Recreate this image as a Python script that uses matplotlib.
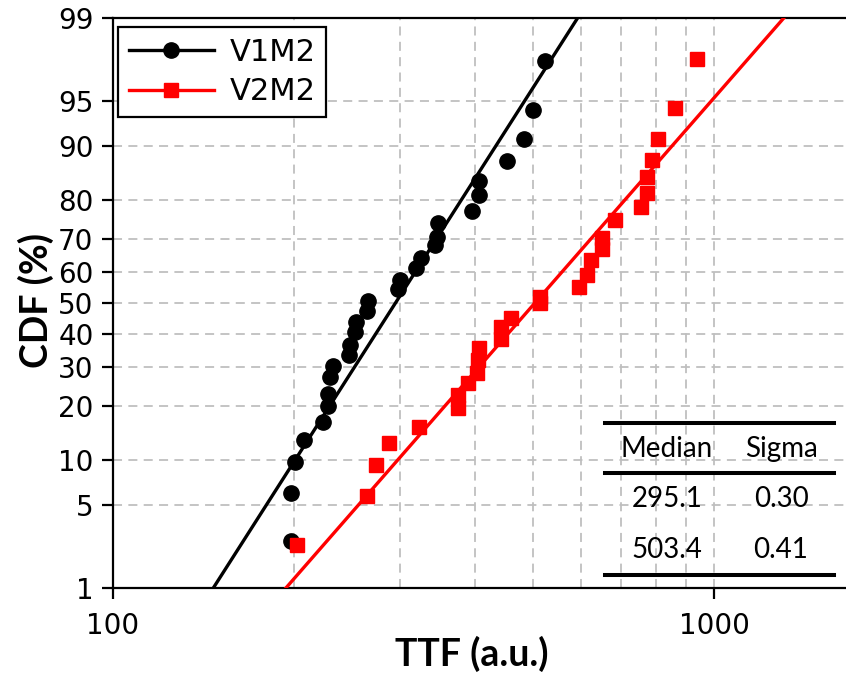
import math
import numpy as np
import matplotlib
matplotlib.use("Agg")
import matplotlib.pyplot as plt
from matplotlib.lines import Line2D
from matplotlib.ticker import FixedLocator, NullFormatter, FixedFormatter

# ---------------- data ----------------
v1_ttf = [198, 198, 201, 208, 224, 228, 228, 230, 232, 247, 248, 253, 254, 265, 266,
          298, 300, 319, 325, 343, 346, 348, 396, 406, 406, 452, 483, 499, 523]
v1_cdf = [2.6, 6.0, 9.7, 13.2, 16.6, 20.0, 23.0, 27.4, 30.3, 33.5, 36.6, 40.7, 43.9, 47.5, 50.7,
          54.5, 57.6, 61.1, 64.2, 68.2, 70.6, 74.4, 77.3, 81.1, 84.1, 87.7, 90.9, 94.2, 97.6]

v2_ttf = [202, 265, 274, 288, 323, 375, 375, 390, 403, 405, 407, 442, 442, 459, 513, 514,
          597, 615, 624, 650, 650, 684, 755, 774, 774, 788, 808, 861, 936]
v2_cdf = [2.4, 5.8, 9.3, 12.6, 15.6, 19.6, 22.6, 25.6, 28.5, 32.1, 35.6, 38.5, 42.3, 45.0, 50.1, 52.0,
          55.3, 59.0, 63.7, 67.0, 70.1, 75.1, 78.4, 81.5, 84.9, 87.8, 91.0, 94.4, 97.7]

series_names = ["V1M2", "V2M2"]
series_colors = ["black", "#ff0000"]
series_markers = ["o", "s"]
medians = [295.1, 503.4]
sigmas = [0.30, 0.41]

y_ticks = [1, 5, 10, 20, 30, 40, 50, 60, 70, 80, 90, 95, 99]
x_ticks = [100, 1000]
x_grid = [200, 300, 400, 500, 600, 700, 800, 900, 1000]

table_header = ["Median", "Sigma"]
table_rows = [["295.1", "0.30"], ["503.4", "0.41"]]

# ---------------- probability scale helpers ----------------
_a = [-3.969683028665376e+01, 2.209460984245205e+02, -2.759285104469687e+02,
      1.383577518672690e+02, -3.066479806614716e+01, 2.506628277459239e+00]
_b = [-5.447609879822406e+01, 1.615858368580409e+02, -1.556989798598866e+02,
      6.680131188771972e+01, -1.328068155288572e+01]
_c = [-7.784894002430293e-03, -3.223964580411365e-01, -2.400758277161838e+00,
      -2.549671010173818e+00, 4.374664141464968e+00, 2.938163982698783e+00]
_d = [7.784695709041462e-03, 3.224671290700398e-01, 2.445134137142996e+00,
      3.754408661907416e+00]


def norm_ppf(p):
    p = np.atleast_1d(np.asarray(p, dtype=float))
    shape = p.shape
    p = p.ravel()
    z = np.empty_like(p)
    plow = 0.02425
    lo = p < plow
    hi = p > 1 - plow
    mid = ~(lo | hi)
    q = np.sqrt(-2 * np.log(p[lo]))
    z[lo] = (((((_c[0]*q+_c[1])*q+_c[2])*q+_c[3])*q+_c[4])*q+_c[5]) / \
        ((((_d[0]*q+_d[1])*q+_d[2])*q+_d[3])*q+1)
    q = p[mid] - 0.5
    r = q * q
    z[mid] = (((((_a[0]*r+_a[1])*r+_a[2])*r+_a[3])*r+_a[4])*r+_a[5])*q / \
        (((((_b[0]*r+_b[1])*r+_b[2])*r+_b[3])*r+_b[4])*r+1)
    q = np.sqrt(-2 * np.log(1 - p[hi]))
    z[hi] = -(((((_c[0]*q+_c[1])*q+_c[2])*q+_c[3])*q+_c[4])*q+_c[5]) / \
        ((((_d[0]*q+_d[1])*q+_d[2])*q+_d[3])*q+1)
    return z.reshape(shape)


_erf = np.vectorize(math.erf)


def fwd(pct):
    pct = np.clip(np.asarray(pct, dtype=float), 1e-7, 100 - 1e-7)
    return norm_ppf(pct / 100.0)


def inv(z):
    return 50.0 * (1.0 + _erf(np.asarray(z, dtype=float) / math.sqrt(2)))


# ---------------- figure ----------------
W, H = 846, 673
fig = plt.figure(figsize=(W / 100, H / 100), dpi=100)
AX_W, AX_H = W - 113, 570
ax = fig.add_axes([113 / W, 85 / H, AX_W / W, AX_H / H])

ax.set_xscale("log")
ax.set_yscale("function", functions=(fwd, inv))
ax.set_xlim(100, 10 ** (2 + AX_W / 601))
ax.set_ylim(1, 99)

for spine in ["left", "top", "bottom"]:
    ax.spines[spine].set_linewidth(1.6)
ax.spines["right"].set_visible(False)

# grid
grid_kw = dict(color="#bfbfbf", linestyle=(0, (5, 3.5)), linewidth=1.3, zorder=0)
for xv in x_grid:
    ax.axvline(xv, **grid_kw)
for yv in y_ticks[1:-1]:
    ax.axhline(yv, **grid_kw)

# fitted lines and data points
data = [(v1_ttf, v1_cdf), (v2_ttf, v2_cdf)]
pct_line = np.linspace(1, 99, 300)
for i in range(2):
    xs = medians[i] * np.exp(sigmas[i] * fwd(pct_line))
    ax.plot(xs, pct_line, color=series_colors[i], lw=2.4, zorder=3)
    ms = 11 if series_markers[i] == "o" else 10
    ax.plot(data[i][0], data[i][1], linestyle="none", marker=series_markers[i],
            color=series_colors[i], markersize=ms, zorder=4)

# ticks
ax.yaxis.set_major_locator(FixedLocator(y_ticks))
ax.yaxis.set_major_formatter(FixedFormatter([str(t) for t in y_ticks]))
ax.yaxis.set_minor_locator(FixedLocator([]))
ax.xaxis.set_major_locator(FixedLocator(x_ticks))
ax.xaxis.set_major_formatter(FixedFormatter([str(t) for t in x_ticks]))
ax.xaxis.set_minor_locator(FixedLocator([]))
ax.xaxis.set_minor_formatter(NullFormatter())
ax.tick_params(axis="both", which="major", direction="out", length=8, width=1.6,
               labelsize=20, pad=6)
ax.tick_params(axis="x", pad=9)

ax.set_xlabel("TTF (a.u.)", fontsize=27, fontweight="bold", family="Lato", va="center")
ax.xaxis.set_label_coords((472 - 113) / AX_W, (588 - 654) / AX_H)
ax.set_ylabel("CDF (%)", fontsize=27, fontweight="bold", family="Lato", va="center")
ax.yaxis.set_label_coords((36 - 113) / AX_W, (588 - 300) / AX_H)

# legend
handles = [Line2D([], [], color=series_colors[i], marker=series_markers[i], lw=2.4,
                  markersize=(11 if series_markers[i] == "o" else 10))
           for i in range(2)]
leg = ax.legend(handles, series_names, loc="upper left", bbox_to_anchor=(5 / AX_W, 1 - 9 / AX_H),
                fontsize=22, frameon=True, fancybox=False, framealpha=1,
                edgecolor="black", handlelength=2.8, handletextpad=0.5,
                borderpad=0.35, labelspacing=0.35, borderaxespad=0)
leg.get_frame().set_linewidth(1.6)

# statistics table
def fx(px):
    return px / W


def fy(py):
    return 1 - py / H


for ly in [423, 473, 575]:
    fig.add_artist(Line2D([fx(605), fx(834)], [fy(ly), fy(ly)], color="black", lw=2.9))
col_x = [667, 781]
tkw = dict(fontsize=20, family="Lato", ha="center", va="center")
for j, t in enumerate(table_header):
    fig.text(fx(col_x[j]), fy(449), t, **tkw)
for r, row in enumerate(table_rows):
    for j, t in enumerate(row):
        fig.text(fx(col_x[j]), fy(499 + 51 * r), t, **tkw)

fig.savefig("out.png", dpi=100)
